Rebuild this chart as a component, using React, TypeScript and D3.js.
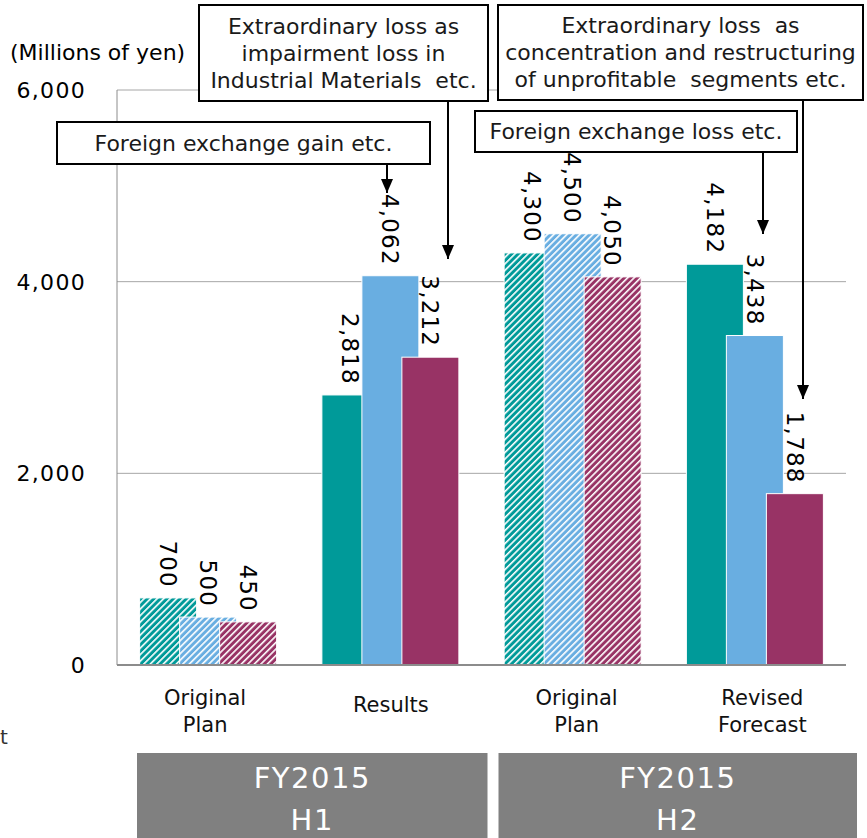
import React from "react";
import * as d3 from "d3";

// categories (x axis), two lines each
const categories = [["Original", "Plan"], ["Results"], ["Original", "Plan"], ["Revised", "Forecast"]];
// three series per category
const tealValues = [700, 2818, 4300, 4182];
const blueValues = [500, 4062, 4500, 3438];
const plumValues = [450, 3212, 4050, 1788];
// plan columns are hatched
const hatched = [true, false, true, false];
const yTicks = [0, 2000, 4000, 6000];
const periodLabels = [["FY2015", "H1"], ["FY2015", "H2"]];

const seriesColors = ["#009a99", "#69aee1", "#983365"];

const W = 867;
const H = 838;
const FONT = "'DejaVu Sans', Verdana, sans-serif";

// callout boxes (layout only)
const notes = [
  { lines: ["Foreign exchange gain etc."], x: 57, y: 122, w: 373, h: 42, ax: 387, ay0: 164, ay1: 193 },
  {
    lines: ["Extraordinary loss as", "impairment loss in", "Industrial Materials  etc."],
    x: 199, y: 5, w: 289, h: 96, ax: 448, ay0: 101, ay1: 259,
  },
  { lines: ["Foreign exchange loss etc."], x: 475, y: 111, w: 322, h: 41, ax: 763, ay0: 152, ay1: 234 },
  {
    lines: ["Extraordinary loss  as", "concentration and restructuring", "of unprofitable  segments etc."],
    x: 498, y: 5, w: 365, h: 95, ax: 803, ay0: 100, ay1: 399,
  },
];

export default function App() {
  const left = 117;
  const right = 846;
  const x = d3.scaleBand<number>().domain(d3.range(categories.length)).range([left, right]);
  const y = d3.scaleLinear().domain([0, 6000]).range([665, 90]);
  const fmt = d3.format(",");

  const barW = 57;
  const barStep = 40;
  const series = [tealValues, blueValues, plumValues];

  const bars: any[] = [];
  const labels: any[] = [];
  // bars drawn series by series so later ones overlap earlier ones
  series.forEach((vals, s) => {
    vals.forEach((v, i) => {
      const groupW = barW + barStep * (series.length - 1);
      const x0 = x(i)! + (x.bandwidth() - groupW) / 2 + s * barStep;
      const top = y(v);
      bars.push(
        <rect
          key={`b${s}-${i}`}
          x={x0}
          y={top}
          width={barW}
          height={y(0) - top}
          fill={hatched[i] ? `url(#hatch${s})` : seriesColors[s]}
          stroke="#fff"
          strokeWidth={1}
        />
      );
      labels.push(
        <text
          key={`l${s}-${i}`}
          transform={`translate(${x0 + barW / 2},${top - 10}) rotate(90)`}
          textAnchor="end"
          dy="0.36em"
          fontSize={23}
          letterSpacing={1.2}
          fill="#000"
        >
          {fmt(v)}
        </text>
      );
    });
  });

  const periodBoxes = [
    { x0: x(0)! + 20, x1: x(1)! + x.bandwidth() + 6 },
    { x0: x(2)! + 17, x1: x(3)! + x.bandwidth() + 11 },
  ];

  return (
    <svg
      width={W}
      height={H}
      style={{ position: "absolute", left: 0, top: 0, display: "block", background: "#fff" }}
      fontFamily={FONT}
    >
      <defs>
        {seriesColors.map((c, s) => (
          <pattern
            key={s}
            id={`hatch${s}`}
            patternUnits="userSpaceOnUse"
            width={4.6}
            height={4.6}
            patternTransform="rotate(45)"
          >
            <rect width={4.6} height={4.6} fill={c} />
            <rect x={0} width={1.6} height={4.6} fill="#fff" />
          </pattern>
        ))}
        <marker id="arrow" viewBox="0 0 14 12" refX={14} refY={6} markerWidth={7} markerHeight={6} orient="auto">
          <path d="M0,0 L14,6 L0,12 z" fill="#000" />
        </marker>
      </defs>

      {/* grid */}
      {yTicks.slice(1).map((t) => (
        <line key={t} x1={left} x2={right} y1={y(t)} y2={y(t)} stroke="#a6a6a6" strokeWidth={1} />
      ))}
      <line x1={left} x2={left} y1={y(6000)} y2={y(0)} stroke="#8c8c8c" strokeWidth={1} />

      {bars}

      <line x1={left} x2={right} y1={y(0)} y2={y(0)} stroke="#8c8c8c" strokeWidth={2} />

      {/* y ticks */}
      {yTicks.map((t) => (
        <text
          key={t}
          x={86}
          y={y(t)}
          dy="0.36em"
          textAnchor="end"
          fontSize={22}
          letterSpacing={1.3}
          fill="#000"
        >
          {fmt(t)}
        </text>
      ))}
      <text x={10} y={60} fontSize={22} fill="#000">
        (Millions of yen)
      </text>

      {labels}

      {/* category labels */}
      {categories.map((lines, i) => {
        const cx = x(i)! + x.bandwidth() / 2 + i * 3.5 - 3;
        const base = lines.length === 1 ? 712 : 705;
        return (
          <text key={i} textAnchor="middle" fontSize={21} fill="#111">
            {lines.map((ln, k) => (
              <tspan key={k} x={cx} y={base + k * 27}>
                {ln}
              </tspan>
            ))}
          </text>
        );
      })}

      <text x={0} y={744} fontSize={20} fill="#333">
        t
      </text>

      {/* period boxes */}
      {periodBoxes.map((b, i) => (
        <g key={i}>
          <rect x={b.x0} y={753} width={b.x1 - b.x0} height={H - 753} fill="#808080" />
          <text textAnchor="middle" fontSize={29} fill="#fff" letterSpacing={1.5}>
            <tspan x={(b.x0 + b.x1) / 2} y={788}>
              {periodLabels[i][0]}
            </tspan>
            <tspan x={(b.x0 + b.x1) / 2} y={830}>
              {periodLabels[i][1]}
            </tspan>
          </text>
        </g>
      ))}

      {/* callouts */}
      {notes.map((n, i) => (
        <g key={i}>
          <rect x={n.x} y={n.y} width={n.w} height={n.h} fill="#fff" stroke="#000" strokeWidth={2} />
          <text textAnchor="middle" fontSize={22} fill="#1a1a1a" style={{ whiteSpace: "pre" }}>
            {n.lines.map((ln, k) => (
              <tspan
                key={k}
                x={n.x + n.w / 2}
                y={n.y + n.h / 2 + (k - (n.lines.length - 1) / 2) * 27}
                dy="0.36em"
              >
                {ln}
              </tspan>
            ))}
          </text>
          <line
            x1={n.ax}
            x2={n.ax}
            y1={n.ay0}
            y2={n.ay1}
            stroke="#000"
            strokeWidth={2}
            markerEnd="url(#arrow)"
          />
        </g>
      ))}
    </svg>
  );
}
